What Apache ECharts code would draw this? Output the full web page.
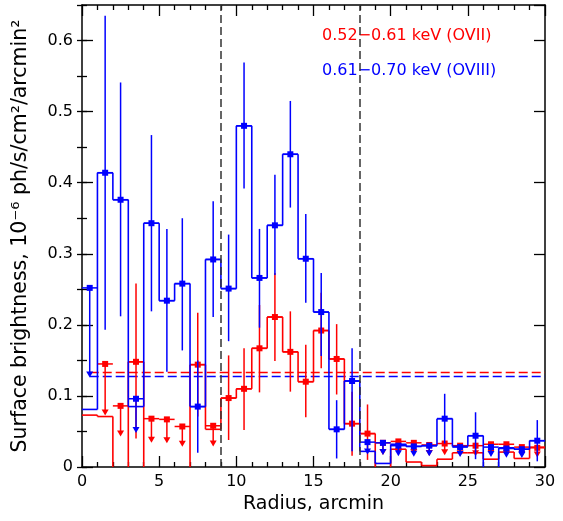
<!DOCTYPE html>
<html><head><meta charset="utf-8">
<script src="https://cdn.jsdelivr.net/npm/echarts@6/dist/echarts.min.js"></script>
<style>html,body{margin:0;padding:0;background:#fff}#c{width:563px;height:521px}</style>
</head><body><div id="c"></div>
<script>
// ---- data ----
const radius = [0.5,1.5,2.5,3.5,4.5,5.5,6.5,7.5,8.5,9.5,10.5,11.5,12.5,13.5,14.5,15.5,16.5,17.5,18.5,19.5,20.5,21.5,22.5,23.5,24.5,25.5,26.5,27.5,28.5,29.5];
const binHalfWidth = 0.5;
const xMax = 30;
const yMax = 0.65;

// OVII band (red)
const redHist  = [0.073,0.071,-0.02,0.148,-0.02,-0.02,-0.02,0.144,0.053,0.097,0.110,0.167,0.211,0.162,0.120,0.192,0.152,0.061,0.047,-0.02,0.025,0.007,0.002,0.011,0.020,0.020,0.011,0.021,0.012,0.028];
const redVal   = [null,0.145,0.086,0.148,0.068,0.067,0.057,0.144,0.058,0.097,0.110,0.167,0.211,0.162,0.120,0.192,0.152,0.061,0.047,0.034,0.036,0.034,0.031,0.033,0.030,0.030,0.032,0.032,0.028,0.027];
const redLo    = [null,null,null,0.040,null,null,null,0.071,null,0.038,0.052,0.105,0.149,0.106,0.070,0.139,0.102,0.016,0.010,null,null,null,null,null,null,null,null,null,null,null];
const redHi    = [null,null,null,0.258,null,null,null,0.217,null,0.157,0.167,0.228,0.273,0.219,0.172,0.245,0.201,0.106,0.088,null,null,null,null,null,null,null,null,null,null,null];
const redUpper = [0,1,1,0,1,1,1,0,1,0,0,0,0,0,0,0,0,0,0,1,1,1,1,1,1,1,1,1,1,1];

// OVIII band (blue)
const blueHist  = [0.081,0.414,0.376,0.085,0.343,0.234,0.258,0.085,0.292,0.251,0.480,0.266,0.340,0.440,0.293,0.218,0.053,0.121,0.022,0.005,0.032,0.029,0.030,0.068,0.029,0.044,-0.02,0.027,0.025,0.037];
const blueVal   = [0.252,0.414,0.376,0.096,0.343,0.234,0.258,0.085,0.292,0.251,0.480,0.266,0.340,0.440,0.293,0.218,0.053,0.121,0.035,0.034,0.030,0.029,0.030,0.068,0.028,0.044,0.028,0.026,0.025,0.037];
const blueLo    = [null,0.193,0.212,null,0.219,0.134,0.164,0.020,0.211,0.177,0.392,0.196,0.270,0.365,0.231,0.156,0.012,0.022,null,null,null,null,null,0.033,null,0.011,null,null,null,0.008];
const blueHi    = [null,0.635,0.541,null,0.467,0.335,0.350,0.150,0.374,0.327,0.569,0.335,0.411,0.515,0.356,0.273,0.094,0.167,null,null,null,null,null,0.103,null,0.077,null,null,null,0.066];
const blueUpper = [1,0,0,1,0,0,0,0,0,0,0,0,0,0,0,0,0,0,1,1,1,1,1,0,1,0,1,1,1,0];

const redMean = 0.133;
const blueMean = 0.1275;
const dividers = [9, 18];

const redLabel = '0.52\u22120.61 keV (OVII)';
const blueLabel = '0.61\u22120.70 keV (OVIII)';
const xTitle = 'Radius, arcmin';
const yTitle = 'Surface brightness, 10\u207B\u2076 ph/s/cm\u00B2/arcmin\u00B2';

// ---- chart ----
const FONT = '"DejaVu Sans", sans-serif';
const RED = '#ff0000', BLUE = '#0000ff';
const arrowFrac = 0.5;

function makeSeries(color, hist, val, lo, hi, upper) {
  return {
    type: 'custom',
    xAxisIndex: 0, yAxisIndex: 0,
    clip: true,
    silent: true,
    animation: false,
    z: 3,
    data: radius.map((r, i) => [r, hist[i]]),
    renderItem: function (params, api) {
      const i = params.dataIndex;
      const r = radius[i];
      const ch = [];
      const L = (p, q, w) => ch.push({type: 'line', shape: {x1: p[0], y1: p[1], x2: q[0], y2: q[1]}, style: {stroke: color, lineWidth: w || 1.6}});
      const pL = api.coord([r - binHalfWidth, hist[i]]);
      const pR = api.coord([r + binHalfWidth, hist[i]]);
      L(pL, pR);
      if (i + 1 < radius.length) {
        L(pR, api.coord([r + binHalfWidth, hist[i + 1]]));
      }
      if (val[i] != null) {
        const c = api.coord([r, val[i]]);
        L(api.coord([r - binHalfWidth, val[i]]), api.coord([r + binHalfWidth, val[i]]), 1.5);
        if (upper[i]) {
          const t = api.coord([r, val[i] * arrowFrac]);
          L(c, [t[0], t[1] - 5], 1.5);
          ch.push({type: 'polygon', shape: {points: [[t[0] - 3.5, t[1] - 6], [t[0] + 3.5, t[1] - 6], [t[0], t[1]]]}, style: {fill: color}});
        } else {
          L(api.coord([r, lo[i]]), api.coord([r, hi[i]]), 1.5);
        }
        ch.push({type: 'rect', shape: {x: c[0] - 3, y: c[1] - 3, width: 6, height: 6}, style: {fill: color}});
      }
      return {type: 'group', children: ch};
    }
  };
}

function meanLine(color, level) {
  return {
    type: 'line', xAxisIndex: 0, yAxisIndex: 0, silent: true, z: 2,
    symbol: 'none', animation: false,
    data: [[radius[0], level], [xMax, level]],
    lineStyle: {color: color, width: 1.5, type: [9, 4]}
  };
}

const tickStyle = {color: '#000', width: 1.3};
const baseX = {type: 'value', min: 0, max: xMax, interval: 5, splitLine: {show: false},
  axisLine: {show: true, onZero: false, lineStyle: {color: '#000', width: 1.5}},
  axisTick: {show: true, inside: true, length: 11, lineStyle: tickStyle},
  minorTick: {show: true, splitNumber: 5, length: 5, lineStyle: tickStyle}};
const baseY = {type: 'value', min: 0, max: yMax, splitLine: {show: false}};

const chart = echarts.init(document.getElementById('c'), null, {renderer: 'canvas'});
chart.setOption({
  animation: false,
  backgroundColor: '#fff',
  grid: {left: 82, right: 18, top: 5, bottom: 54, containLabel: false},
  xAxis: [
    Object.assign({}, baseX, {position: 'bottom',
      axisLabel: {show: true, fontSize: 16, color: '#000', fontFamily: FONT, margin: 7},
      name: xTitle, nameLocation: 'middle', nameGap: 27,
      nameTextStyle: {fontSize: 19, color: '#000', fontFamily: FONT}}),
    Object.assign({}, baseX, {position: 'top', axisLabel: {show: false}})
  ],
  yAxis: [
    Object.assign({}, baseY, {position: 'left', interval: 0.1,
      axisLine: {show: true, onZero: false, lineStyle: {color: '#000', width: 1.5}},
      axisTick: {show: true, inside: true, length: 11, lineStyle: tickStyle},
      axisLabel: {show: true, fontSize: 16, color: '#000', fontFamily: FONT, margin: 9, showMaxLabel: false,
        formatter: v => (Math.abs(v * 10 - Math.round(v * 10)) < 1e-6 ? String(+v.toFixed(1)) : '')},
      name: yTitle, nameLocation: 'middle', nameGap: 51,
      nameTextStyle: {fontSize: 20.5, color: '#000', fontFamily: FONT}}),
    Object.assign({}, baseY, {position: 'left', interval: 0.05,
      axisLine: {show: false},
      axisTick: {show: true, inside: true, length: 5, lineStyle: tickStyle},
      axisLabel: {show: false}}),
    Object.assign({}, baseY, {position: 'right', interval: 0.1,
      axisLine: {show: true, onZero: false, lineStyle: {color: '#000', width: 1.5}},
      axisTick: {show: true, inside: true, length: 11, lineStyle: tickStyle},
      axisLabel: {show: false}}),
    Object.assign({}, baseY, {position: 'right', interval: 0.05,
      axisLine: {show: false},
      axisTick: {show: true, inside: true, length: 5, lineStyle: tickStyle},
      axisLabel: {show: false}})
  ],
  series: [
    {
      type: 'line', data: [], xAxisIndex: 0, yAxisIndex: 0, silent: true, z: 1,
      markLine: {
        silent: true, symbol: 'none', animation: false, label: {show: false},
        data: [
          {xAxis: dividers[0], lineStyle: {color: '#333', type: [8, 4], width: 1.5}},
          {xAxis: dividers[1], lineStyle: {color: '#333', type: [8, 4], width: 1.5}}
        ]
      }
    },
    meanLine(RED, redMean),
    meanLine(BLUE, blueMean),
    makeSeries(RED, redHist, redVal, redLo, redHi, redUpper),
    makeSeries(BLUE, blueHist, blueVal, blueLo, blueHi, blueUpper)
  ],
  graphic: [
    {type: 'text', left: 322, top: 28, silent: true, style: {text: redLabel, fill: RED, font: '16px ' + FONT}},
    {type: 'text', left: 322, top: 63, silent: true, style: {text: blueLabel, fill: BLUE, font: '16px ' + FONT}}
  ]
});
</script>
</body></html>
